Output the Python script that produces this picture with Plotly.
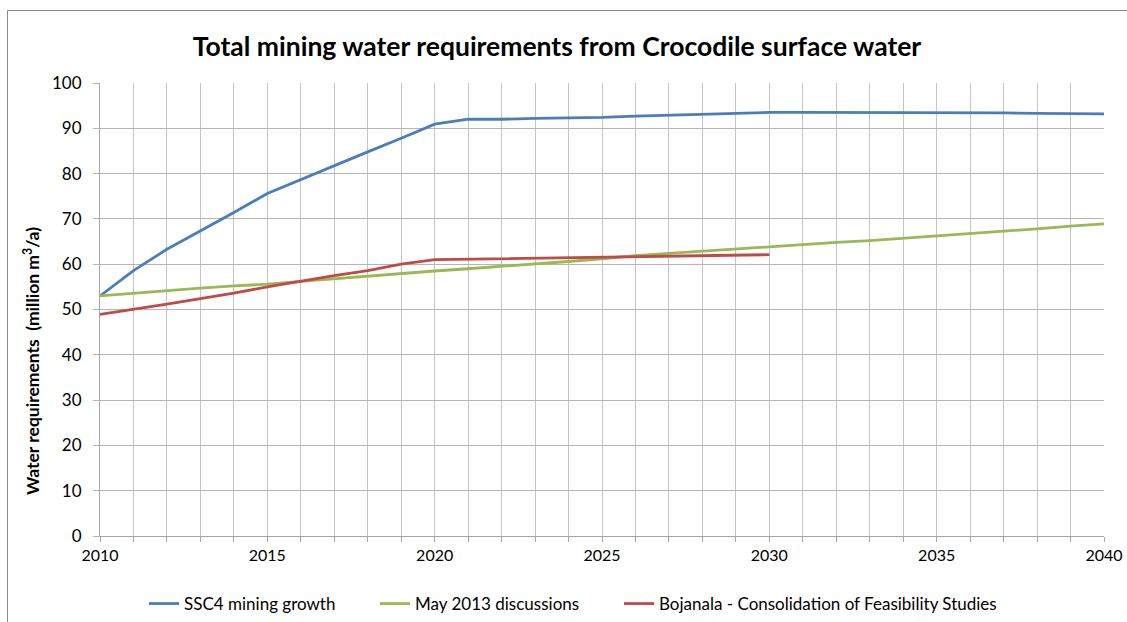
import plotly.graph_objects as go

years = list(range(2010, 2041))

ssc4_growth = [53.0, 58.6, 63.3, 67.3, 71.4, 75.6, 78.7, 81.7, 84.8, 87.8, 90.9,
               92.0, 92.0, 92.2, 92.3, 92.4, 92.7, 92.9, 93.1, 93.4, 93.5,
               93.5, 93.5, 93.5, 93.5, 93.5, 93.5, 93.4, 93.3, 93.2, 93.2]

may_2013 = [53.0, 53.6, 54.2, 54.7, 55.2, 55.6, 56.2, 56.8, 57.3, 57.9, 58.5,
            59.0, 59.5, 60.0, 60.6, 61.2, 61.9, 62.4, 62.9, 63.4, 63.8,
            64.3, 64.8, 65.2, 65.7, 66.2, 66.8, 67.3, 67.8, 68.4, 68.9]

bojanala_years = list(range(2010, 2031))
bojanala = [48.9, 50.0, 51.2, 52.4, 53.6, 55.0, 56.3, 57.5, 58.6, 60.0, 61.0,
            61.1, 61.2, 61.4, 61.5, 61.6, 61.7, 61.8, 61.9, 62.0, 62.1]

series = [
    ("SSC4 mining growth", years, ssc4_growth, "#4A7EBB"),
    ("May 2013 discussions", years, may_2013, "#98B954"),
    ("Bojanala - Consolidation of Feasibility Studies", bojanala_years, bojanala, "#BE4B48"),
]

FONT = "Lato, 'Open Sans', sans-serif"
W, H = 1127, 622

# each series gets its own legend box, laid out in a single row under the axis
legend_names = ["legend", "legend2", "legend3"]
legend_left_px = [144, 375, 619]

fig = go.Figure()
for (name, xs, ys, color), lg in zip(series, legend_names):
    fig.add_trace(go.Scatter(x=xs, y=ys, name=name, mode="lines", legend=lg,
                             line=dict(color=color, width=2.8)))

legend_style = dict(orientation="h", xref="container", yref="container",
                    y=1 - 586 / H, yanchor="top", xanchor="left",
                    font=dict(family=FONT, size=17, color="#000000"),
                    itemwidth=30, bgcolor="rgba(0,0,0,0)")

fig.update_layout(
    width=W, height=H,
    margin=dict(l=100, r=23, t=83, b=86, autoexpand=False),
    paper_bgcolor="white", plot_bgcolor="white",
    font=dict(family=FONT, size=16, color="#000000"),
    title=dict(text="<b>Total mining water requirements from Crocodile surface water</b>",
               x=557 / W, xanchor="center", y=1 - 47 / H, yanchor="middle",
               font=dict(family=FONT, size=26.5, color="#000000")),
    showlegend=True,
    **{lg: dict(x=px / W, **legend_style) for lg, px in zip(legend_names, legend_left_px)},
)

fig.update_xaxes(
    range=[2010, 2040], tickmode="linear", tick0=2010, dtick=5,
    showgrid=True, gridcolor="#c4c4c4", gridwidth=1,
    minor=dict(dtick=1, tick0=2010, showgrid=True, gridcolor="#c4c4c4",
               ticks="outside", ticklen=5, tickcolor="#a6a6a6"),
    ticks="outside", ticklen=5, tickcolor="#a6a6a6",
    showline=True, linecolor="#a6a6a6", linewidth=1, mirror=False,
    tickfont=dict(family=FONT, size=16, color="#000000"),
    zeroline=False, automargin=False,
)

fig.update_yaxes(
    range=[0, 100], tickmode="linear", tick0=0, dtick=10,
    showgrid=True, gridcolor="#b5b5b5", gridwidth=1,
    ticks="outside", ticklen=6, tickcolor="#b5b5b5",
    showline=True, linecolor="#a6a6a6", linewidth=1,
    tickfont=dict(family=FONT, size=17, color="#000000"),
    ticklabelstandoff=8,
    zeroline=False, automargin=False,
)

# vertical axis title, placed in pixel terms left of the plot
fig.add_annotation(
    text="<b>Water requirements  (million m<sup>3</sup>/a)</b>",
    xref="paper", yref="paper",
    x=-(100 - 31) / 1004, y=(536 - 361) / 453,
    xanchor="center", yanchor="middle", textangle=-90, showarrow=False,
    font=dict(family=FONT, size=17.5, color="#000000"),
)

# chart frame
fig.add_shape(type="rect", xref="paper", yref="paper",
              x0=-(100 - 7.5) / 1004, x1=(W + 5 - 100) / 1004,
              y0=-(H + 5 - 536) / 453, y1=(536 - 10.5) / 453,
              line=dict(color="#8c8c8c", width=1), layer="below")

fig.write_html("out.html")
